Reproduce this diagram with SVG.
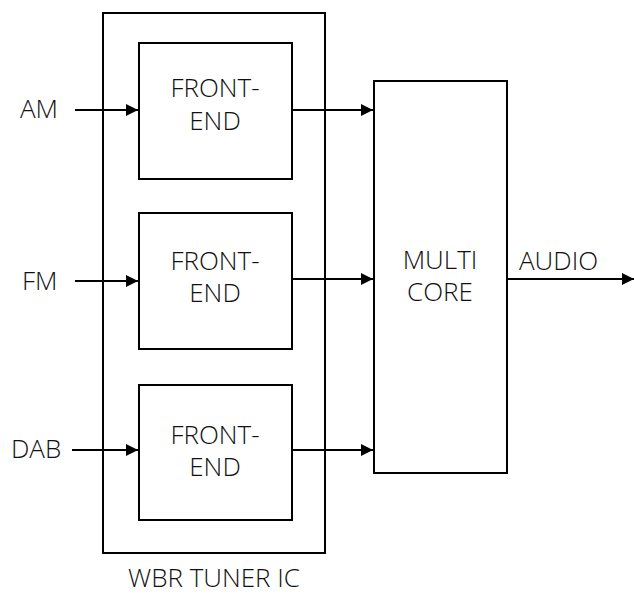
<svg xmlns="http://www.w3.org/2000/svg" width="634" height="595" viewBox="0 0 634 595">
<style>
.box{fill:#fff;stroke:#000;stroke-width:2}
.t{font-family:"Open Sans","Noto Sans","DejaVu Sans",sans-serif;font-weight:300;font-size:26px;fill:#111}
.m{text-anchor:middle}
.w{stroke:#000;stroke-width:2;fill:none}
</style>
<defs>
<marker id="ah" markerUnits="userSpaceOnUse" markerWidth="12" markerHeight="12" viewBox="0 0 12 12" refX="12" refY="6" orient="auto">
<path d="M0,0 L12,6 L0,12 Z" fill="#000"/>
</marker>
</defs>
<g id="tuner">
<rect class="box" x="103" y="13" width="222" height="540"/>
<text class="t m" x="214" y="587">WBR TUNER IC</text>
</g>
<g id="fe1">
<rect class="box" x="139" y="43" width="153" height="136"/>
<text class="t m"><tspan x="215" y="97">FRONT-</tspan><tspan x="215" y="130">END</tspan></text>
</g>
<g id="fe2">
<rect class="box" x="139" y="213" width="153" height="136"/>
<text class="t m"><tspan x="215" y="270">FRONT-</tspan><tspan x="215" y="302">END</tspan></text>
</g>
<g id="fe3">
<rect class="box" x="139" y="385" width="153" height="135"/>
<text class="t m"><tspan x="215" y="444">FRONT-</tspan><tspan x="215" y="476">END</tspan></text>
</g>
<g id="multicore">
<rect class="box" x="374" y="81" width="133" height="392"/>
<text class="t m"><tspan x="440" y="269">MULTI</tspan><tspan x="440" y="301">CORE</tspan></text>
</g>
<g id="labels">
<text class="t" x="20" y="118">AM</text>
<text class="t" x="22" y="290">FM</text>
<text class="t" x="11" y="458">DAB</text>
<text class="t" x="519" y="270">AUDIO</text>
</g>
<g id="connectors">
<line class="w" x1="75" y1="110" x2="138" y2="110" marker-end="url(#ah)"/>
<line class="w" x1="75" y1="281" x2="138" y2="281" marker-end="url(#ah)"/>
<line class="w" x1="72" y1="450" x2="138" y2="450" marker-end="url(#ah)"/>
<line class="w" x1="292" y1="110" x2="373" y2="110" marker-end="url(#ah)"/>
<line class="w" x1="292" y1="279" x2="373" y2="279" marker-end="url(#ah)"/>
<line class="w" x1="292" y1="450" x2="373" y2="450" marker-end="url(#ah)"/>
<line class="w" x1="507" y1="279" x2="634" y2="279" marker-end="url(#ah)"/>
</g>
</svg>
